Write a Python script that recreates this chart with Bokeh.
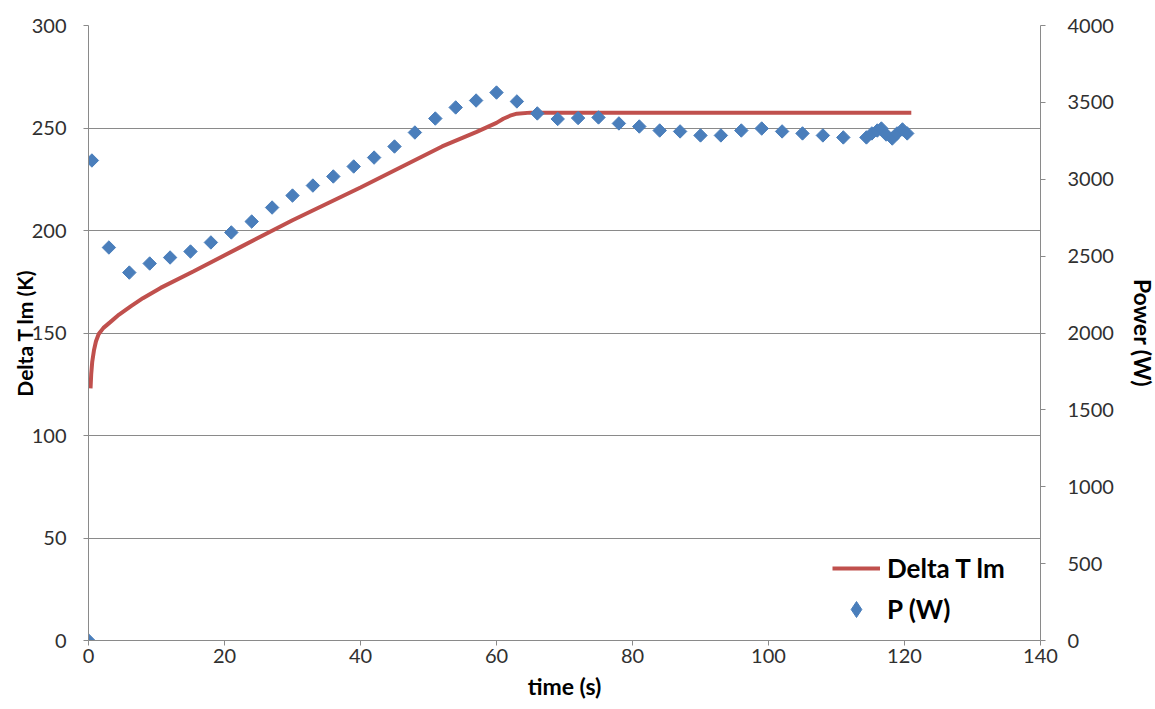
from bokeh.plotting import figure
from bokeh.models import Range1d, LinearAxis, Legend, LegendItem, FixedTicker
from bokeh.embed import file_html
from bokeh.resources import INLINE

# Delta T lm (K) line
dt_time = [0.3, 0.4, 0.55, 0.8, 1.1, 1.5, 2.2, 3.2, 4.5, 6.2, 8, 10.6, 15.4, 22.4, 30, 40, 46,
           52, 57, 60, 61, 62, 63, 65, 70, 121]
dt_val = [123, 130, 136, 141.5, 146, 149.5, 152.5, 155.3, 159, 163, 167, 172, 180, 192, 205, 221,
          231, 241, 248, 252.5, 254.5, 256, 257, 257.5, 257.5, 257.5]

# P (W) points
p_time = [0, 0.5, 3, 6, 9, 12, 15, 18, 21, 24, 27, 30, 33, 36, 39, 42, 45, 48, 51, 54, 57, 60,
          63, 66, 69, 72, 75, 78, 81, 84, 87, 90, 93, 96, 99, 102, 105, 108, 111,
          114.4, 115.2, 116, 116.6, 117.3, 118.2, 118.9, 119.7, 120.4]
p_val = [0, 3122, 2556, 2393, 2452, 2491, 2530, 2589, 2654, 2725, 2816, 2894, 2959, 3018, 3083,
         3141, 3213, 3304, 3395, 3467, 3512, 3564, 3506, 3428, 3392, 3398, 3402, 3363, 3343, 3317,
         3311, 3285, 3285, 3317, 3330, 3311, 3298, 3285, 3272,
         3272, 3298, 3317, 3330, 3291, 3265, 3298, 3324, 3298]

x_ticks = [0, 20, 40, 60, 80, 100, 120, 140]
left_ticks = [0, 50, 100, 150, 200, 250, 300]
right_ticks = [0, 500, 1000, 1500, 2000, 2500, 3000, 3500, 4000]

FONT = "Lato"
AXIS_GRAY = "#8a8a8a"
BLUE = "#4A7EBB"
RED = "#C0504D"

p = figure(frame_width=952, frame_height=615,
           min_border_left=88, min_border_right=113, min_border_top=25, min_border_bottom=67,
           x_range=Range1d(0, 140), y_range=Range1d(0, 300),
           output_backend="svg", toolbar_location=None)
p.extra_y_ranges = {"power": Range1d(0, 4000)}
p.outline_line_color = None
p.background_fill_color = "white"

p.xgrid.visible = False
p.ygrid.grid_line_color = AXIS_GRAY
p.ygrid.grid_line_width = 1

def style_axis(ax):
    ax.axis_line_color = AXIS_GRAY
    ax.major_tick_line_color = AXIS_GRAY
    ax.major_tick_out = 5
    ax.major_tick_in = 0
    ax.minor_tick_line_color = None
    ax.major_label_text_font = FONT
    ax.major_label_text_font_size = "20px"
    ax.major_label_text_color = "#303030"
    ax.axis_label_text_font = FONT
    ax.axis_label_text_font_size = "23px"
    ax.axis_label_text_font_style = "bold"
    ax.axis_label_text_color = "black"

xa = p.xaxis[0]
xa.ticker = FixedTicker(ticks=x_ticks)
xa.axis_label = "time (s)"
style_axis(xa)
xa.major_label_standoff = 3
xa.axis_label_standoff = 6

ya = p.yaxis[0]
ya.ticker = FixedTicker(ticks=left_ticks)
ya.axis_label = "Delta T lm (K)"
style_axis(ya)
ya.axis_label_text_font_size = "21px"
ya.major_label_standoff = 17
ya.axis_label_standoff = -8
p.ygrid.ticker = FixedTicker(ticks=left_ticks)

ra = LinearAxis(y_range_name="power", ticker=FixedTicker(ticks=right_ticks), axis_label="Power (W)")
style_axis(ra)
ra.major_label_standoff = 22
ra.axis_label_standoff = 12
p.add_layout(ra, "right")

line = p.line(dt_time, dt_val, line_color=RED, line_width=4)
sc = p.scatter(p_time, p_val, marker="square", size=9.5, angle=0.785398,
               fill_color=BLUE, line_color=BLUE, y_range_name="power")
# legend-only diamond marker: same data, hidden in the plot, shown only as the legend symbol
leg_sc = p.scatter(p_time, p_val, marker="diamond", size=18,
                   fill_color=BLUE, line_color=BLUE, y_range_name="power", visible=False)

legend = Legend(items=[LegendItem(label="Delta T lm", renderers=[line]),
                       LegendItem(label="P (W)", renderers=[leg_sc])],
                location=(744, 11))
legend.label_text_font = FONT
legend.label_text_font_size = "26px"
legend.label_text_font_style = "bold"
legend.label_text_color = "black"
legend.glyph_width = 48
legend.glyph_height = 40
legend.label_height = 40
legend.spacing = 1
legend.padding = 0
legend.margin = 0
legend.label_standoff = 7
legend.border_line_color = None
legend.background_fill_alpha = 0
legend.inactive_fill_alpha = 0
p.add_layout(legend)

open("out.html", "w").write(file_html(p, INLINE))
